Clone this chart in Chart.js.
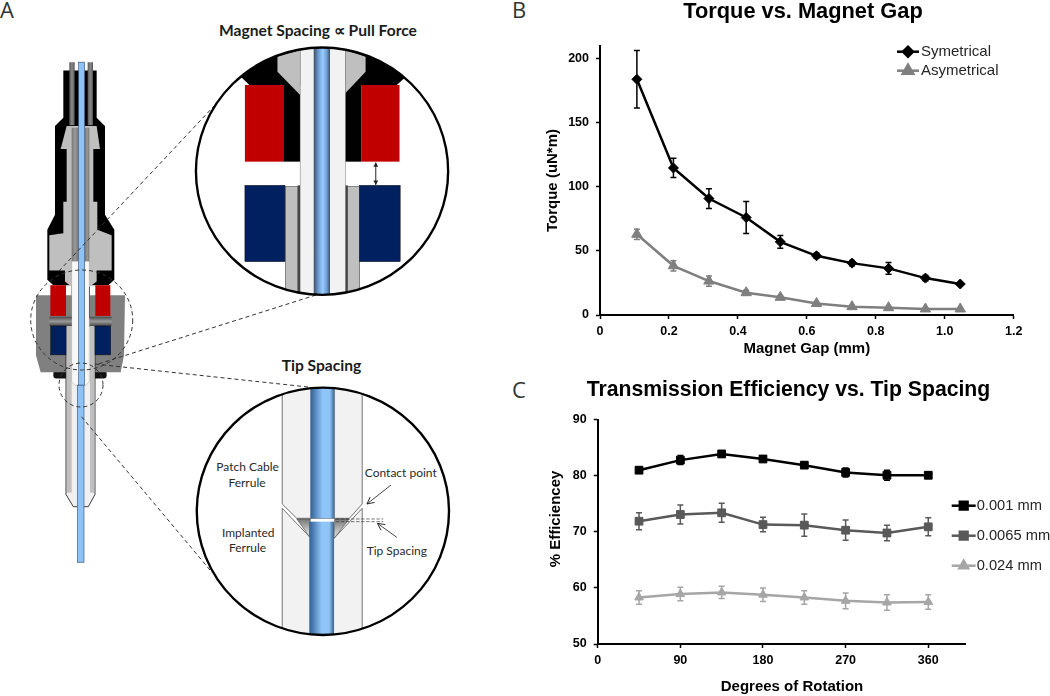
<!DOCTYPE html>
<html>
<head>
<meta charset="utf-8">
<title>Magnet gap and tip spacing</title>
<script src="https://cdn.jsdelivr.net/npm/chart.js@4"></script>
<style>
    html, body { margin: 0; padding: 0; background: #fff; width: 1050px; height: 696px; overflow: hidden; }
    canvas, svg { position: absolute; }
    #schematic { left: 0; top: 0; }
    #torque-chart { left: 540px; top: -10px; }
    #efficiency-chart { left: 527px; top: 370px; }
    .panel { font: 400 22px "Open Sans"; fill: #333; }
    .head { font: 700 15.6px Lato; fill: #1c1c1c; text-anchor: middle; }
    .note { font: 400 12px Lato; fill: #2a2a2a; text-anchor: middle; }
    .dash { stroke: #333; stroke-width: 1; stroke-dasharray: 4 3; fill: none; }
</style>
</head>
<body>
<svg id="schematic" width="1050" height="696" viewBox="0 0 1050 696">
    <defs>
        <linearGradient id="fiber">
            <stop offset="0" stop-color="#3d4f66"/><stop offset="0.3" stop-color="#6f9fd6"/>
            <stop offset="0.55" stop-color="#99ccff"/><stop offset="0.8" stop-color="#6f9fd6"/>
            <stop offset="1" stop-color="#3d4f66"/>
        </linearGradient>
        <linearGradient id="fiber2">
            <stop offset="0" stop-color="#2f5f94"/><stop offset="0.5" stop-color="#8fc4f8"/>
            <stop offset="0.8" stop-color="#8fc4f8"/><stop offset="1" stop-color="#3d5f86"/>
        </linearGradient>
        <linearGradient id="tube">
            <stop offset="0" stop-color="#555"/><stop offset="0.5" stop-color="#8a8a8a"/><stop offset="1" stop-color="#555"/>
        </linearGradient>
        <linearGradient id="bar" x1="0" y1="0" x2="0" y2="1">
            <stop offset="0" stop-color="#4a4a4a"/><stop offset="0.5" stop-color="#9a9a9a"/><stop offset="1" stop-color="#4a4a4a"/>
        </linearGradient>
        <linearGradient id="cone" x1="0" y1="0" x2="0" y2="1">
            <stop offset="0" stop-color="#777"/><stop offset="1" stop-color="#eee"/>
        </linearGradient>
        <clipPath id="lens1"><ellipse cx="389.5" cy="483.5" rx="372" ry="371"/></clipPath>
        <clipPath id="lens2"><ellipse cx="392" cy="484" rx="372" ry="371"/></clipPath>
        <marker id="head" viewBox="0 0 10 10" refX="9" refY="5" markerWidth="14" markerHeight="14" orient="auto-start-reverse" markerUnits="userSpaceOnUse">
            <path d="M0 0 L10 5 L0 10 Z" fill="#222"/>
        </marker>
        <marker id="open" viewBox="0 0 10 10" refX="9" refY="5" markerWidth="26" markerHeight="26" orient="auto" markerUnits="userSpaceOnUse">
            <path d="M1 1 L9 5 L1 9" fill="none" stroke="#222" stroke-width="1"/>
        </marker>
    </defs>

    <text class="panel" x="0" y="18">A</text>
    <text class="panel" x="512" y="18">B</text>
    <text class="panel" x="512" y="398">C</text>

    <!-- Assembled device -->
    <g transform="scale(0.3333,0.3704)">
        <rect x="160" y="1000" width="160" height="22" rx="9" fill="#111"/>
        <polygon points="108,797 375,797 372,960 362,1005 122,1005 108,960" fill="#808080"/>
        <polygon points="190,190 290,190 290,318 315,340 315,580 343,620 343,755 325,770 270,770 270,860 215,860 215,770 160,770 142,755 142,620 165,580 165,340 190,318" fill="#000"/>
        <rect x="208" y="168" width="16" height="170" fill="url(#tube)"/>
        <rect x="263" y="168" width="16" height="170" fill="url(#tube)"/>
        <polygon points="200,340 290,340 300,402 280,402 280,545 292,545 292,620 335,635 335,730 290,730 290,760 268,775 215,775 195,760 195,730 148,730 148,635 190,630 190,545 200,545 200,402 182,402" fill="#bfbfbf"/>
        <rect x="215" y="345" width="20" height="365" fill="url(#tube)" opacity="0.7"/>
        <rect x="255" y="345" width="13" height="365" fill="url(#tube)" opacity="0.7"/>
        <polygon points="198,880 285,880 285,1335 265,1368 220,1368 198,1335" fill="#f0f0f0" stroke="#222" stroke-width="2.5"/>
        <rect x="201" y="880" width="14" height="450" fill="#bfbfbf"/>
        <rect x="270" y="880" width="13" height="450" fill="#bfbfbf"/>
        <polygon points="215,705 268,705 268,1030 258,1040 225,1040 215,1030" fill="#f8f8f8" stroke="#888" stroke-width="1"/>
        <rect x="151" y="770" width="47" height="83" fill="#c00000"/>
        <rect x="286" y="770" width="45" height="83" fill="#c00000"/>
        <rect x="148" y="855" width="67" height="25" fill="url(#bar)"/>
        <rect x="270" y="855" width="65" height="25" fill="url(#bar)"/>
        <rect x="152" y="880" width="46" height="78" fill="#002060" stroke="#111" stroke-width="1.5"/>
        <rect x="285" y="880" width="47" height="78" fill="#002060" stroke="#111" stroke-width="1.5"/>
        <rect x="236" y="168" width="18" height="872" fill="#8fc3f5" stroke="#3a5a80" stroke-width="2"/>
        <rect x="232" y="1040" width="20" height="478" fill="#8fc3f5" stroke="#3a5a80" stroke-width="2"/>
    </g>

    <!-- Detail call-outs -->
    <ellipse class="dash" cx="81.7" cy="320" rx="51" ry="50"/>
    <ellipse class="dash" cx="81" cy="385" rx="22" ry="22"/>
    <line class="dash" x1="215" y1="105" x2="58" y2="272"/>
    <line class="dash" x1="316" y1="295" x2="95" y2="365"/>
    <line class="dash" x1="308" y1="387" x2="95" y2="364"/>
    <line class="dash" x1="210" y1="570" x2="80" y2="415"/>

    <!-- Magnet detail -->
    <text class="head" x="318" y="36">Magnet Spacing ∝ Pull Force</text>
    <g transform="translate(190,10) scale(0.339,0.3333)">
        <ellipse cx="389.5" cy="483.5" rx="372" ry="371" fill="#fff"/>
        <g clip-path="url(#lens1)">
            <polygon points="100,100 690,100 632,205 610,225 175,225 150,200" fill="#000"/>
            <rect x="275" y="225" width="50" height="230" fill="#000"/>
            <rect x="458" y="225" width="47" height="230" fill="#000"/>
            <polygon points="258,140 325,120 325,255 258,185" fill="#bfbfbf"/>
            <polygon points="458,120 518,140 518,185 458,250" fill="#bfbfbf"/>
            <rect x="162" y="225" width="113" height="230" fill="#c00000"/>
            <rect x="505" y="225" width="113" height="230" fill="#c00000"/>
            <rect x="282" y="530" width="36" height="330" fill="#bfbfbf" stroke="#555" stroke-width="2"/>
            <rect x="465" y="530" width="35" height="330" fill="#bfbfbf" stroke="#555" stroke-width="2"/>
            <rect x="318" y="526" width="7" height="330" fill="#444"/>
            <rect x="458" y="526" width="7" height="330" fill="#444"/>
            <rect x="325" y="100" width="133" height="770" fill="#f2f2f2" stroke="#777" stroke-width="1.5"/>
            <rect x="365" y="100" width="48" height="770" fill="url(#fiber)"/>
            <rect x="162" y="526" width="118" height="229" fill="#002060" stroke="#111" stroke-width="1.5"/>
            <rect x="500" y="526" width="120" height="229" fill="#002060" stroke="#111" stroke-width="1.5"/>
        </g>
        <line x1="548" y1="458" x2="548" y2="524" stroke="#222" stroke-width="3" marker-start="url(#head)" marker-end="url(#head)"/>
        <ellipse cx="389.5" cy="483.5" rx="372" ry="371" fill="none" stroke="#000" stroke-width="7"/>
    </g>

    <!-- Tip detail -->
    <text class="head" x="321.5" y="371">Tip Spacing</text>
    <g transform="translate(190,350) scale(0.339,0.3333)">
        <ellipse cx="392" cy="484" rx="372" ry="371" fill="#fff"/>
        <g clip-path="url(#lens2)">
            <polygon points="272,100 508,100 508,462 470,505 315,505 272,462" fill="#f2f2f2" stroke="#333" stroke-width="2"/>
            <polygon points="272,475 352,560 425,565 508,475 508,870 272,870" fill="#f2f2f2" stroke="#333" stroke-width="2"/>
            <polygon points="315,507 355,507 352,560" fill="url(#cone)" stroke="#333" stroke-width="1.5"/>
            <polygon points="470,507 427,507 425,565" fill="url(#cone)" stroke="#333" stroke-width="1.5"/>
            <rect x="355" y="100" width="72" height="405" fill="url(#fiber2)"/>
            <rect x="352" y="515" width="73" height="350" fill="url(#fiber2)"/>
        </g>
        <line x1="430" y1="507" x2="570" y2="507" stroke="#333" stroke-width="2" stroke-dasharray="10 5"/>
        <line x1="430" y1="515" x2="570" y2="515" stroke="#333" stroke-width="2" stroke-dasharray="10 5"/>
        <line x1="593" y1="405" x2="522" y2="462" stroke="#222" stroke-width="2.5" marker-end="url(#open)"/>
        <line x1="610" y1="562" x2="553" y2="520" stroke="#222" stroke-width="2.5" marker-end="url(#open)"/>
        <ellipse cx="392" cy="484" rx="372" ry="371" fill="none" stroke="#000" stroke-width="7"/>
    </g>
    <text class="note" x="247.6" y="471">Patch Cable</text>
    <text class="note" x="247" y="487">Ferrule</text>
    <text class="note" x="248.3" y="537">Implanted</text>
    <text class="note" x="247.6" y="552">Ferrule</text>
    <text class="note" x="400.8" y="477">Contact point</text>
    <text class="note" x="396.8" y="555">Tip Spacing</text>
</svg>

<canvas id="torque-chart" width="526" height="370"></canvas>
<canvas id="efficiency-chart" width="523" height="326"></canvas>

<script>
// Panel B: torque readings
const gapValues = [0.107, 0.213, 0.316, 0.424, 0.523, 0.628, 0.731, 0.837, 0.944, 1.045];
const symetricalTorque = [184, 114.8, 90.9, 76.1, 57.1, 46.2, 40.5, 36.4, 28.8, 24.2];
const symetricalError = [22.5, 7.5, 7.7, 12.5, 5, 2, 2, 4.5, 2, 1];
const asymetricalTorque = [63, 38.4, 26.5, 17.4, 13.8, 9, 6.5, 5.7, 4.7, 4.7];
const asymetricalError = [4, 4, 4, 2, 1.5, 1, 1, 1, 0.5, 0.5];

// Panel C: efficiency readings
const rotationValues = [45, 90, 135, 180, 225, 270, 315, 360];
const efficiency001 = [81.0, 82.8, 83.9, 83.0, 81.9, 80.6, 80.1, 80.1];
const error001 = [0.5, 0.8, 0.5, 0.5, 0.5, 0.8, 0.9, 0.5];
const efficiency0065 = [71.9, 73.1, 73.4, 71.3, 71.2, 70.3, 69.8, 70.9];
const error0065 = [1.5, 1.7, 1.7, 1.3, 2, 1.8, 1.4, 1.6];
const efficiency024 = [58.3, 58.9, 59.2, 58.8, 58.3, 57.7, 57.4, 57.5];
const error024 = [1.2, 1.2, 1.1, 1.2, 1.2, 1.4, 1.4, 1.3];

Chart.defaults.font.family = '"Liberation Sans"';
Chart.defaults.color = '#000';
Chart.defaults.animation = false;

// Vertical error bars with small caps, under the markers
const errorBars = {
    id: 'errorBars',
    beforeDatasetsDraw(chart) {
        const { ctx, scales } = chart;
        chart.data.datasets.forEach(set => {
            ctx.save();
            ctx.strokeStyle = set.borderColor;
            ctx.lineWidth = 1.5;
            set.data.forEach((point, i) => {
                const px = scales.x.getPixelForValue(point.x);
                const top = scales.y.getPixelForValue(point.y + set.errors[i]);
                const bottom = scales.y.getPixelForValue(point.y - set.errors[i]);
                ctx.beginPath();
                ctx.moveTo(px, top);
                ctx.lineTo(px, bottom);
                ctx.moveTo(px - 3, top);
                ctx.lineTo(px + 3, top);
                ctx.moveTo(px - 3, bottom);
                ctx.lineTo(px + 3, bottom);
                ctx.stroke();
            });
            ctx.restore();
        });
    }
};

// Legend with a line through the marker, as the source has it
const lineLegend = {
    id: 'lineLegend',
    afterDraw(chart, args, opts) {
        const { ctx } = chart;
        chart.data.datasets.forEach((set, i) => {
            const y = opts.rows[i];
            ctx.save();
            ctx.strokeStyle = set.borderColor;
            ctx.fillStyle = set.borderColor;
            ctx.lineWidth = 2.5;
            ctx.beginPath();
            ctx.moveTo(opts.lineStart, y);
            ctx.lineTo(opts.lineEnd, y);
            ctx.stroke();
            Chart.helpers.drawPoint(ctx, {
                pointStyle: set.pointStyle,
                radius: set.pointRadius,
                rotation: 0,
                borderWidth: 1
            }, (opts.lineStart + opts.lineEnd) / 2, y);
            ctx.fillStyle = '#262626';
            ctx.font = opts.font;
            ctx.textBaseline = 'middle';
            ctx.fillText(set.label, opts.textX, y);
            ctx.restore();
        });
    }
};

// Free-standing axis captions for the panel whose captions sit off-centre
const axisCaptions = {
    id: 'axisCaptions',
    afterDraw(chart, args, opts) {
        const { ctx } = chart;
        ctx.save();
        ctx.fillStyle = '#000';
        ctx.font = opts.font;
        ctx.textAlign = 'center';
        ctx.textBaseline = 'middle';
        ctx.fillText(opts.xText, opts.xAt[0], opts.xAt[1]);
        ctx.translate(opts.yAt[0], opts.yAt[1]);
        ctx.rotate(-Math.PI / 2);
        ctx.fillText(opts.yText, 0, 0);
        ctx.restore();
    }
};

function toPoints(xs, ys) {
    return xs.map((x, i) => ({ x: x, y: ys[i] }));
}

function makeSeries(label, xs, ys, errors, color, pointStyle, pointRadius) {
    return {
        label: label,
        data: toPoints(xs, ys),
        errors: errors,
        showLine: true,
        borderColor: color,
        backgroundColor: color,
        borderWidth: 2.5,
        pointStyle: pointStyle,
        pointRadius: pointRadius,
        pointBorderWidth: 1
    };
}

function axisBase(size) {
    return {
        type: 'linear',
        afterFit: size,
        border: { color: '#000', width: 2 },
        grid: { drawOnChartArea: false, color: '#000', tickLength: 4, tickWidth: 1.5 }
    };
}

new Chart(document.getElementById('torque-chart'), {
    type: 'scatter',
    data: {
        datasets: [
            makeSeries('Symetrical', gapValues, symetricalTorque, symetricalError, '#000', 'rectRot', 5),
            makeSeries('Asymetrical', gapValues, asymetricalTorque, asymetricalError, '#7f7f7f', 'triangle', 6)
        ]
    },
    plugins: [errorBars, lineLegend],
    options: {
        responsive: false,
        plugins: {
            legend: { display: false },
            tooltip: { enabled: false },
            title: {
                display: true,
                text: 'Torque vs. Magnet Gap',
                font: { size: 21.8, weight: 'bold' },
                padding: { top: 8.6, bottom: 21.2 }
            },
            lineLegend: {
                rows: [61.7, 80.7],
                lineStart: 357,
                lineEnd: 379,
                textX: 381,
                font: '15px "Liberation Sans"'
            }
        },
        scales: {
            x: {
                ...axisBase(scale => { scale.height = 45; scale.paddingRight = 52.3; }),
                min: 0,
                max: 1.2,
                ticks: { stepSize: 0.2, padding: 5, maxRotation: 0, font: { size: 12.5, weight: 'bold' } },
                title: { display: true, text: 'Magnet Gap (mm)', font: { size: 15, weight: 'bold' }, padding: { top: 0, bottom: 2 } }
            },
            y: {
                ...axisBase(scale => { scale.width = 60; }),
                min: 0,
                max: 210,
                ticks: { stepSize: 50, padding: 7, includeBounds: false, font: { size: 12.5, weight: 'bold' } },
                title: { display: true, text: 'Torque (uN*m)', font: { size: 15, weight: 'bold' }, padding: { top: 4, bottom: 0 } }
            }
        }
    }
});

new Chart(document.getElementById('efficiency-chart'), {
    type: 'scatter',
    data: {
        datasets: [
            makeSeries('0.001 mm', rotationValues, efficiency001, error001, '#000', 'rect', 5.5),
            makeSeries('0.0065 mm', rotationValues, efficiency0065, error0065, '#595959', 'rect', 5.5),
            makeSeries('0.024 mm', rotationValues, efficiency024, error024, '#a6a6a6', 'triangle', 5)
        ]
    },
    plugins: [errorBars, lineLegend, axisCaptions],
    options: {
        responsive: false,
        plugins: {
            legend: { display: false },
            tooltip: { enabled: false },
            title: {
                display: true,
                text: 'Transmission Efficiency vs. Tip Spacing',
                font: { size: 21.2, weight: 'bold' },
                padding: { top: 7.3, bottom: 17 }
            },
            lineLegend: {
                rows: [135.7, 165.7, 195.7],
                lineStart: 424.7,
                lineEnd: 448.7,
                textX: 449.7,
                font: '14.7px "Liberation Sans"'
            },
            axisCaptions: {
                font: 'bold 15px "Liberation Sans"',
                xText: 'Degrees of Rotation',
                xAt: [265, 316.7],
                yText: '% Efficiencey',
                yAt: [28.5, 149]
            }
        },
        scales: {
            x: {
                ...axisBase(scale => { scale.height = 52; scale.paddingRight = 85; }),
                min: 0,
                max: 400,
                ticks: { stepSize: 90, padding: 5, maxRotation: 0, includeBounds: false, font: { size: 12.5, weight: 'bold' } }
            },
            y: {
                ...axisBase(scale => { scale.width = 70.7; }),
                min: 50,
                max: 90,
                ticks: { stepSize: 10, padding: 7, font: { size: 12.5, weight: 'bold' } }
            }
        }
    }
});
</script>
</body>
</html>
